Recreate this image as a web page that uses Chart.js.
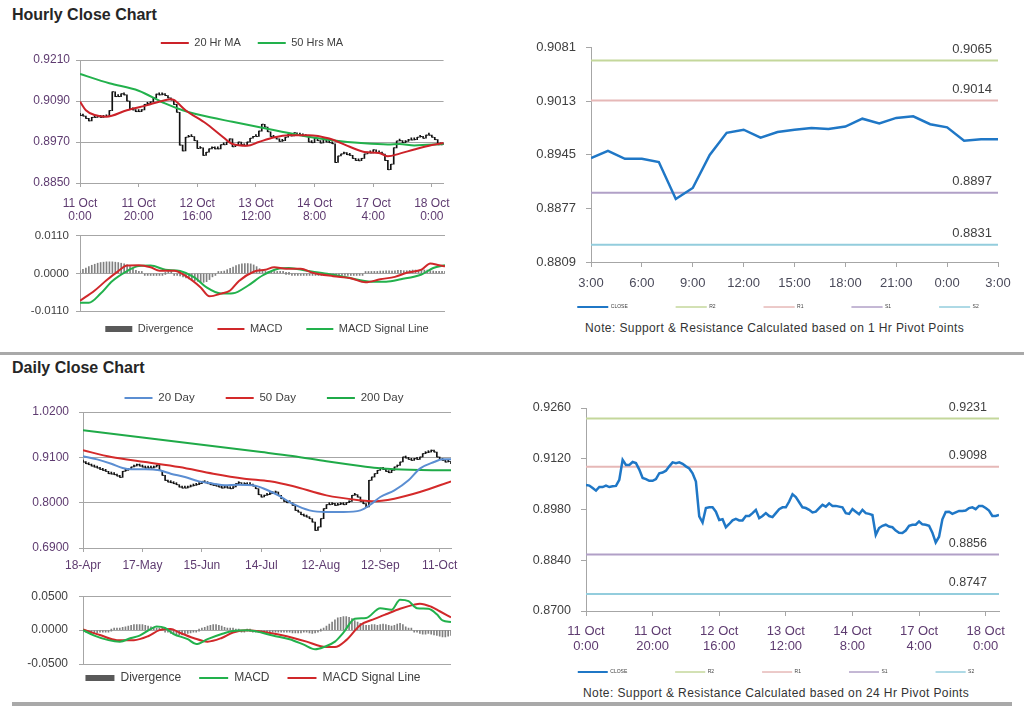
<!DOCTYPE html>
<html>
<head>
<meta charset="utf-8">
<title>Hourly and Daily Close Charts</title>
<script src="https://cdn.jsdelivr.net/npm/chart.js@4.4.1/dist/chart.umd.min.js"></script>
<style>
  html, body { margin:0; padding:0; background:#ffffff; }
  body { position:relative; width:1024px; height:706px; overflow:hidden; font-family:"Liberation Sans", Arial, Helvetica, sans-serif; }
  canvas { position:absolute; }
  .title { position:absolute; left:12px; font-weight:bold; font-size:16px; line-height:16px; color:#262626; white-space:nowrap; }
  .note { position:absolute; font-size:12px; line-height:14px; letter-spacing:0.4px; color:#333333; white-space:nowrap; }
  .rule { position:absolute; background:#a9a9a9; }
</style>
</head>
<body>
<div class="title" style="top:7px">Hourly Close Chart</div>
<div class="title" style="top:360px">Daily Close Chart</div>
<div class="rule" style="left:0;top:352px;width:1024px;height:3px"></div>
<div class="rule" style="left:12px;top:702px;width:1000px;height:4px"></div>
<div class="note" style="left:585px;top:321px">Note: Support &amp; Resistance Calculated based on 1 Hr Pivot Points</div>
<div class="note" style="left:583px;top:686px">Note: Support &amp; Resistance Calculated based on 24 Hr Pivot Points</div>
<canvas id="c1" width="460" height="200" style="left:0;top:26px"></canvas>
<canvas id="c2" width="460" height="125" style="left:0;top:222px"></canvas>
<canvas id="c3" width="524" height="320" style="left:500px;top:30px"></canvas>
<canvas id="c4" width="470" height="200" style="left:0;top:380px"></canvas>
<canvas id="c5" width="470" height="120" style="left:0;top:578px"></canvas>
<canvas id="c6" width="524" height="316" style="left:500px;top:390px"></canvas>
<script>
// ---------------- DATA ----------------
// Hourly closes, 11 Oct 0:00 .. 18 Oct ~4:00 (one value per hour bar)
const hourlyClose = [
  0.9048,0.9046,0.9039,0.9032,0.9042,0.9042,0.9046,0.9042,0.9044,0.9045,
  0.9062,0.9117,0.9103,0.9103,0.9111,0.9108,0.9090,0.9067,0.9064,0.9059,
  0.9059,0.9064,0.9080,0.9082,0.9087,0.9099,0.9110,0.9108,0.9110,0.9106,
  0.9099,0.9093,0.9080,0.9057,0.8961,0.8944,0.8984,0.8986,0.8986,0.8974,
  0.8951,0.8953,0.8931,0.8940,0.8950,0.8954,0.8950,0.8950,0.8962,0.8962,
  0.8970,0.8979,0.8956,0.8962,0.8970,0.8962,0.8959,0.8970,0.8981,0.8986,
  0.8986,0.9002,0.9022,0.9014,0.9000,0.8986,0.8984,0.8979,0.8972,0.8974,
  0.8984,0.8993,0.8988,0.8997,0.8990,0.8990,0.8988,0.8986,0.8970,0.8968,
  0.8981,0.8974,0.8967,0.8979,0.8970,0.8968,0.8965,0.8910,0.8929,0.8935,
  0.8938,0.8933,0.8931,0.8922,0.8916,0.8915,0.8922,0.8935,0.8938,0.8938,
  0.8947,0.8939,0.8938,0.8935,0.8916,0.8889,0.8905,0.8953,0.8973,0.8974,
  0.8968,0.8972,0.8976,0.8976,0.8977,0.8984,0.8986,0.8981,0.8990,0.8990,
  0.8984,0.8977,0.8962,0.8962,0.8965
];
const hourTickStep = 20;
const hourTickLabels = [['11 Oct','0:00'],['11 Oct','20:00'],['12 Oct','16:00'],['13 Oct','12:00'],['14 Oct','8:00'],['17 Oct','4:00'],['18 Oct','0:00']];

const hourMA20X = [0,2,5,9,16,23,27,31,32,36,43,48,52,57,61,66,71,78,85,92,97,102,105,109,114,120,124];
const hourMA20  = [0.9088,0.9063,0.9049,0.9044,0.9063,0.9078,0.9088,0.9095,0.9093,0.9063,0.9024,0.8990,0.8964,0.8959,0.8970,0.8983,0.8990,0.8990,0.8980,0.8956,0.8941,0.8938,0.8928,0.8936,0.8948,0.8961,0.8967];
const hourMA50X = [0,10,20,29,35,41,52,63,75,86,97,105,109,114,124];
const hourMA50  = [0.9169,0.9142,0.9120,0.9083,0.9063,0.9049,0.9029,0.9010,0.8990,0.8975,0.8966,0.8963,0.8964,0.8960,0.8964];

const hourMacdX = [0,5,9,13,16,20,24,27,32,36,41,44,48,51,54,59,63,66,70,75,79,86,92,97,102,107,111,116,119,122,124];
const hourMacd  = [-0.0080,-0.0050,-0.0020,0.0007,0.0023,0.0024,0.0018,0.0008,0.0008,-0.0008,-0.0041,-0.0067,-0.0059,-0.0050,-0.0022,0.0005,0.0011,0.0018,0.0014,0.0014,0.0002,-0.0008,-0.0014,-0.0026,-0.0017,-0.0010,0.0002,0.0011,0.0029,0.0024,0.0021];
const hourSigX  = [0,3,7,11,16,20,24,29,34,39,43,48,52,57,62,67,71,77,84,91,99,104,109,116,120,124];
const hourSig   = [-0.0086,-0.0086,-0.0059,-0.0022,0.0007,0.0022,0.0023,0.0011,0.0007,-0.0012,-0.0041,-0.0059,-0.0058,-0.0036,-0.0006,0.0013,0.0016,0.0008,-0.0001,-0.0012,-0.0024,-0.0024,-0.0017,-0.0003,0.0016,0.0024];
const hourDiv = [
  0.0008,0.0012,0.0016,0.0020,0.0024,0.0027,0.0030,0.0032,0.0033,0.0034,0.0034,0.0034,0.0033,0.0032,0.0030,0.0028,0.0025,0.0020,0.0014,0.0009,0.0005,0.0002,
  -0.0002,-0.0004,-0.0006,-0.0006,-0.0006,-0.0005,-0.0003,0.0000,0.0001,0.0001,-0.0002,-0.0004,-0.0007,-0.0010,-0.0013,-0.0016,-0.0019,-0.0021,-0.0023,-0.0025,-0.0026,-0.0024,-0.0018,-0.0010,-0.0003,
  0.0001,0.0004,0.0007,0.0011,0.0015,0.0019,0.0023,0.0026,0.0028,0.0029,0.0029,0.0028,0.0025,0.0020,0.0014,0.0009,0.0006,0.0005,0.0004,0.0004,0.0003,0.0002,0.0001,0.0000,0.0000,-0.0001,-0.0001,
  -0.0002,-0.0002,-0.0003,-0.0003,-0.0003,-0.0004,-0.0004,-0.0004,-0.0005,-0.0005,-0.0005,-0.0005,-0.0004,-0.0005,-0.0006,-0.0006,-0.0005,-0.0004,-0.0004,-0.0003,-0.0003,-0.0002,-0.0001,
  0.0002,0.0004,0.0005,0.0006,0.0006,0.0007,0.0007,0.0008,0.0008,0.0007,0.0008,0.0009,0.0009,0.0008,0.0008,0.0009,0.0010,0.0010,0.0009,0.0009,0.0010,0.0010,0.0008,0.0007,0.0006,0.0005,0.0005,0.0004
];

// 1 Hr pivot chart (last 24 hours)
const pivotHourClose = [0.8941,0.8950,0.8940,0.8940,0.8936,0.8889,0.8903,0.8945,0.8973,0.8977,0.8967,0.8974,0.8977,0.8979,0.8978,0.8981,0.8991,0.8985,0.8992,0.8994,0.8984,0.8980,0.8963,0.8965,0.8965];
const pivotHourTickStep = 3;
const pivotHourTicks = ['3:00','6:00','9:00','12:00','15:00','18:00','21:00','0:00','3:00'];
const pivot1Levels = [0.9065, 0.9014, 0.8897, 0.8831];
const pivot1LevelText = ['0.9065','0.9014','0.8897','0.8831'];
const pivot24Levels = [0.9231, 0.9098, 0.8856, 0.8747];
const pivot24LevelText = ['0.9231','0.9098','0.8856','0.8747'];
const pivotNames = ['R2','R1','S1','S2'];

// Daily closes, 18-Apr .. mid Oct
const dailyClose = [
  0.8986,0.8946,0.8922,0.8889,0.8865,0.8841,0.8809,0.8784,0.8760,0.8703,
  0.8695,0.8679,0.8647,0.8614,0.8760,0.8784,0.8809,0.8865,0.8889,0.8922,
  0.8889,0.8865,0.8841,0.8841,0.8841,0.8865,0.8906,0.8784,0.8663,0.8542,
  0.8501,0.8485,0.8461,0.8436,0.8380,0.8355,0.8355,0.8380,0.8404,0.8420,
  0.8436,0.8461,0.8517,0.8485,0.8461,0.8436,0.8420,0.8404,0.8380,0.8355,
  0.8380,0.8355,0.8339,0.8380,0.8461,0.8485,0.8436,0.8461,0.8436,0.8436,
  0.8404,0.8339,0.8194,0.8137,0.8178,0.8194,0.8218,0.8234,0.8258,0.8178,
  0.8097,0.8032,0.7999,0.7999,0.7935,0.7813,0.7773,0.7708,0.7676,0.7652,
  0.7611,0.7530,0.7328,0.7409,0.7611,0.7854,0.7951,0.7951,0.7975,0.7935,
  0.7951,0.7975,0.7951,0.7999,0.8032,0.8178,0.8194,0.8137,0.8032,0.7975,
  0.7894,0.8542,0.8622,0.8703,0.8784,0.8841,0.8809,0.8760,0.8728,0.8784,
  0.8865,0.8906,0.8986,0.9108,0.9084,0.9051,0.9027,0.9067,0.9051,0.9108,
  0.9189,0.9213,0.9229,0.9270,0.9229,0.9108,0.9051,0.9027,0.8986,0.9003,
  0.8946
];
const dayTickStep = 21;
const dayTickLabels = ['18-Apr','17-May','15-Jun','14-Jul','12-Aug','12-Sep','11-Oct'];

const dayMA20X  = [0,5,10,14,17,22,27,31,36,41,46,50,55,60,64,69,74,80,86,92,98,102,105,110,115,119,124,127,130];
const dayMA20   = [0.9124,0.9051,0.8946,0.8841,0.8809,0.8809,0.8784,0.8703,0.8622,0.8517,0.8461,0.8420,0.8436,0.8420,0.8339,0.8177,0.7975,0.7813,0.7773,0.7773,0.7813,0.7975,0.8137,0.8299,0.8542,0.8825,0.8986,0.9051,0.9051];
const dayMA50X  = [0,10,22,34,46,57,66,74,86,98,102,110,119,130];
const dayMA50   = [0.9270,0.9108,0.8986,0.8865,0.8703,0.8582,0.8517,0.8404,0.8177,0.8056,0.8032,0.8097,0.8258,0.8517];
const dayMA200X = [0,63,74,86,98,104,110,130];
const dayMA200  = [0.9755,0.9229,0.9132,0.9003,0.8889,0.8841,0.8809,0.8784];

const dayMacdX = [0,4,9,13,17,20,24,26,29,32,37,40,44,49,53,58,63,67,73,78,82,85,89,92,96,100,105,109,112,115,118,122,125,127,130];
const dayMacd  = [0,-0.0081,-0.0148,-0.0170,-0.0116,-0.0081,0.0018,0.0054,0.0031,-0.0058,-0.0134,-0.0206,-0.0134,-0.0058,-0.0013,-0.0004,-0.0036,-0.0081,-0.0134,-0.0215,-0.0282,-0.0251,-0.0170,-0.0036,0.0166,0.0179,0.0323,0.0300,0.0448,0.0426,0.0323,0.0314,0.0233,0.0143,0.0121];
const daySigX  = [0,6,12,18,23,27,31,34,39,44,49,53,58,65,72,79,84,89,93,98,103,107,112,117,119,123,126,130];
const daySig   = [0.0009,-0.0072,-0.0148,-0.0148,-0.0090,0,0.0018,-0.0036,-0.0116,-0.0170,-0.0116,-0.0036,-0.0004,-0.0036,-0.0090,-0.0170,-0.0237,-0.0251,-0.0148,0.0076,0.0166,0.0233,0.0314,0.0376,0.0390,0.0345,0.0278,0.0188];
const dayDiv = [
  -0.001,-0.002,-0.003,-0.004,-0.004,-0.004,-0.003,-0.003,-0.002,-0.001,
  0.000,0.001,0.002,0.003,0.004,0.005,0.006,0.007,0.008,0.008,0.008,0.008,0.007,0.006,0.005,
  0.004,0.003,0.002,0.001,-0.001,
  -0.003,-0.005,-0.006,-0.007,-0.007,-0.007,-0.006,-0.005,-0.004,-0.003,-0.002,0.000,
  0.002,0.004,0.006,0.007,0.008,0.008,0.007,0.006,0.004,0.003,0.002,
  0.001,0.000,0.000,-0.001,-0.001,0.000,0.000,-0.001,-0.001,-0.002,-0.002,-0.002,-0.001,-0.001,-0.002,-0.002,-0.002,
  -0.002,-0.003,-0.003,-0.003,-0.004,-0.004,-0.004,-0.004,-0.003,-0.003,-0.004,-0.005,-0.004,-0.002,0.000,0.003,0.006,0.009,
  0.012,0.015,0.018,0.019,0.020,0.020,0.019,0.017,0.014,0.012,0.010,0.008,0.007,
  0.007,0.008,0.008,0.007,0.008,0.009,0.008,0.007,0.006,0.007,0.009,0.010,0.008,0.005,0.003,0.001,-0.001,
  -0.003,-0.005,-0.006,-0.006,-0.005,-0.006,-0.007,-0.008,-0.009,-0.010,-0.010,-0.009,-0.008
];

// ---------------- STYLE ----------------
const FONT = '"Liberation Sans", Arial, Helvetica, sans-serif';
const GRID = '#a6a6a6';
const C = {
  bars:'#111111', ma20h:'#cc2229', ma50h:'#22b14c', div:'#808080', divKey:'#595959',
  macdRed:'#d0282a', macdGreen:'#22b14c', close:'#1f77c6',
  r2:'#c4d79b', r1:'#e6b8b7', s1:'#b1a0c7', s2:'#93cddd',
  d20:'#5b8ed2', d50:'#d42a2a', d200:'#1faa48',
  purple:'#5e3b70', dark:'#404040'
};

Chart.defaults.font.family = FONT;
Chart.defaults.animation = false;
Chart.defaults.responsive = false;
Chart.defaults.maintainAspectRatio = false;
Chart.defaults.devicePixelRatio = 1;
Chart.defaults.events = [];
Chart.defaults.plugins.tooltip.enabled = false;
Chart.defaults.elements.point.radius = 0;
Chart.defaults.elements.line.tension = 0;

// place legend at a given centre (legend box keeps 1px in layout, then is moved and given room to draw)
const legendPlace = {
  id: 'legendPlace',
  afterLayout(chart, args, opts) {
    const L = chart.legend;
    if (!L || opts.cy == null) return;
    const top = opts.cy - opts.pad - opts.fs / 2;
    L.top = top;
    L.bottom = top + opts.pad * 2 + opts.fs + 4;
    L.height = L.bottom - L.top;
    const s = opts.cx - (L.left + L.right) / 2;
    L.left += s; L.right += s;
  }
};
// value labels above the pivot level lines
const levelLabels = {
  id: 'levelLabels',
  afterDatasetsDraw(chart, args, opts) {
    if (!opts.values) return;
    const ctx = chart.ctx, ys = chart.scales.y;
    ctx.save();
    ctx.font = opts.font; ctx.fillStyle = opts.color;
    ctx.textAlign = 'right'; ctx.textBaseline = 'middle';
    opts.values.forEach((v, i) => ctx.fillText(opts.texts[i], opts.x, ys.getPixelForValue(v) + opts.dy));
    ctx.restore();
  }
};
Chart.register(legendPlace, levelLabels);

// ---------------- HELPERS ----------------
const pts = (xs, ys) => xs.map((x, i) => ({x, y: ys[i]}));
const idxPts = ys => ys.map((y, i) => ({x: i, y}));
const spanBars = ys => ys.map((y, i) => ({x: i, y: [Math.min(i ? ys[i-1] : y, y), Math.max(i ? ys[i-1] : y, y)]}));
const fmt4 = v => (Math.abs(v) < 1e-9 ? 0 : v).toFixed(4);

function legendCfg(position, fs, pad, boxW, cx, cy) {
  return {
    legend: {
      display: true, position, maxHeight: 1,
      labels: {
        font: {size: fs}, color: C.dark, padding: pad, boxWidth: boxW, boxHeight: 0,
        generateLabels: ch => ch.data.datasets
          .map((d, i) => d.legendText ? {text: d.legendText, fillStyle: d.legendColor, strokeStyle: d.legendColor,
             lineWidth: d.legendWidth, hidden: false, datasetIndex: i, fontColor: C.dark} : null)
          .filter(Boolean)
      }
    },
    legendPlace: {cx, cy, pad, fs}
  };
}
function yAxis(o) {
  return {
    type: 'linear', position: 'left', min: o.min, max: o.max,
    ticks: {stepSize: o.step, font: {size: o.fs}, color: o.color, padding: o.pad, callback: fmt4},
    grid: {display: true, drawOnChartArea: o.grid, drawTicks: true, tickLength: o.tl, color: GRID, lineWidth: 1},
    border: {display: true, color: GRID},
    afterFit: s => { s.width = o.w; }
  };
}
function xAxis(o) {
  if (o.hidden) return {type: 'linear', min: 0, max: o.max, offset: false, display: false};
  return {
    type: 'linear', position: 'bottom', min: 0, max: o.max, offset: false,
    ticks: {stepSize: o.step, includeBounds: false, autoSkip: false, maxRotation: 0, minRotation: 0,
      font: {size: o.fs, lineHeight: o.lh}, color: o.color, padding: o.pad,
      callback: v => o.labels[Math.round(v / o.step)]},
    grid: {display: true, drawOnChartArea: false, drawTicks: true, tickLength: o.tl, color: GRID, offset: false},
    border: {display: true, color: GRID},
    afterFit: s => { s.height = o.h; }
  };
}
const lineDS = (label, data, color, width, key) => ({
  type: 'line', label, data, borderColor: color, backgroundColor: color, borderWidth: width,
  pointRadius: 0, fill: false, cubicInterpolationMode: 'monotone', order: 1,
  legendText: key ? label : null, legendColor: color, legendWidth: 2
});
const barDS = (label, data, color, key, keyColor) => ({
  type: 'bar', label, data, backgroundColor: color, borderWidth: 0, barThickness: 1, minBarLength: 2,
  grouped: false, order: 5, legendText: key ? label : null, legendColor: keyColor || color, legendWidth: 6
});
const tickDS = (label, data) => ({
  type: 'line', label, data, showLine: false, pointStyle: 'dash', pointRadius: 2,
  pointBorderColor: C.bars, pointBorderWidth: 1, pointBackgroundColor: C.bars, order: 4, legendText: null
});
const flatDS = (label, level, xmax, color) => ({
  type: 'line', label, data: [{x: 0, y: level}, {x: xmax, y: level}], borderColor: color, backgroundColor: color,
  borderWidth: 2, pointRadius: 0, order: 2, legendText: label, legendColor: color, legendWidth: 1
});

const hourMax = hourlyClose.length - 1;
const dayMax = dailyClose.length - 1;
const pivMax = pivotHourClose.length - 1;

// ---------------- 1: Hourly close ----------------
new Chart(document.getElementById('c1'), {
  type: 'line',
  data: { datasets: [
    lineDS('20 Hr MA', pts(hourMA20X, hourMA20), C.ma20h, 2, true),
    lineDS('50 Hrs MA', pts(hourMA50X, hourMA50), C.ma50h, 2, true),
    barDS('Hourly range', spanBars(hourlyClose), C.bars, false),
    tickDS('Hourly close', idxPts(hourlyClose))
  ]},
  options: {
    layout: {padding: {top: 33, right: 15, bottom: 0, left: 0}},
    plugins: legendCfg('top', 11, 17, 28, 252, 17),
    scales: {
      x: xAxis({max: hourMax, step: hourTickStep, labels: hourTickLabels, fs: 12, lh: 1.1, color: C.purple, pad: 10, tl: 4, h: 43}),
      y: yAxis({min: 0.885, max: 0.921, step: 0.012, fs: 12, color: C.purple, pad: 6, tl: 4, w: 80, grid: true})
    }
  }
});

// ---------------- 2: Hourly MACD ----------------
new Chart(document.getElementById('c2'), {
  type: 'line',
  data: { datasets: [
    barDS('Divergence', idxPts(hourDiv), C.div, true, C.divKey),
    lineDS('MACD', pts(hourMacdX, hourMacd), C.macdRed, 2, true),
    lineDS('MACD Signal Line', pts(hourSigX, hourSig), C.macdGreen, 2, true)
  ]},
  options: {
    layout: {padding: {top: 11, right: 15, bottom: 35, left: 0}},
    plugins: legendCfg('bottom', 11, 24, 27, 267, 107),
    scales: {
      x: xAxis({hidden: true, max: hourMax}),
      y: yAxis({min: -0.011, max: 0.011, step: 0.011, fs: 11.5, color: C.dark, pad: 7, tl: 4, w: 80, grid: true})
    }
  }
});

// ---------------- 3: 1 Hr pivot chart ----------------
new Chart(document.getElementById('c3'), {
  type: 'line',
  data: { datasets: [
    {type: 'line', label: 'CLOSE', data: idxPts(pivotHourClose), borderColor: C.close, backgroundColor: C.close,
     borderWidth: 2.5, pointRadius: 0, order: 1, legendText: 'CLOSE', legendColor: C.close, legendWidth: 2},
    flatDS(pivotNames[0], pivot1Levels[0], pivMax, C.r2),
    flatDS(pivotNames[1], pivot1Levels[1], pivMax, C.r1),
    flatDS(pivotNames[2], pivot1Levels[2], pivMax, C.s1),
    flatDS(pivotNames[3], pivot1Levels[3], pivMax, C.s2)
  ]},
  options: {
    layout: {padding: {top: 17, right: 26, bottom: 47, left: 0}},
    plugins: Object.assign(legendCfg('bottom', 5, 48, 31, 278, 277),
      {levelLabels: {values: pivot1Levels, texts: pivot1LevelText, x: 492, dy: -11, font: '13px ' + FONT, color: C.dark}}),
    scales: {
      x: xAxis({max: pivMax, step: pivotHourTickStep, labels: pivotHourTicks, fs: 13, lh: 1.2, color: '#4a4a5a', pad: 9, tl: 5, h: 40}),
      y: yAxis({min: 0.8809, max: 0.9081, step: 0.0068, fs: 13, color: C.dark, pad: 10, tl: 5, w: 91, grid: false})
    }
  }
});

// ---------------- 4: Daily close ----------------
new Chart(document.getElementById('c4'), {
  type: 'line',
  data: { datasets: [
    lineDS('20 Day', pts(dayMA20X, dayMA20), C.d20, 2, true),
    lineDS('50 Day', pts(dayMA50X, dayMA50), C.d50, 2, true),
    lineDS('200 Day', pts(dayMA200X, dayMA200), C.d200, 2, true),
    barDS('Daily range', spanBars(dailyClose), C.bars, false),
    tickDS('Daily close', idxPts(dailyClose))
  ]},
  options: {
    layout: {padding: {top: 31, right: 19, bottom: 0, left: 0}},
    plugins: legendCfg('top', 11.5, 31, 28, 264, 18),
    scales: {
      x: xAxis({max: dayMax, step: dayTickStep, labels: dayTickLabels, fs: 12, lh: 1.2, color: C.purple, pad: 6, tl: 4, h: 32}),
      y: yAxis({min: 0.69, max: 1.02, step: 0.11, fs: 12, color: C.purple, pad: 10, tl: 4, w: 83, grid: true})
    }
  }
});

// ---------------- 5: Daily MACD ----------------
new Chart(document.getElementById('c5'), {
  type: 'line',
  data: { datasets: [
    barDS('Divergence', idxPts(dayDiv), C.div, true, C.divKey),
    lineDS('MACD', pts(dayMacdX, dayMacd), C.macdGreen, 2, true),
    lineDS('MACD Signal Line', pts(daySigX, daySig), C.macdRed, 2, true)
  ]},
  options: {
    layout: {padding: {top: 12, right: 19, bottom: 33, left: 0}},
    plugins: legendCfg('bottom', 12, 18, 29, 253, 100),
    scales: {
      x: xAxis({hidden: true, max: dayMax}),
      y: yAxis({min: -0.05, max: 0.05, step: 0.05, fs: 12, color: C.dark, pad: 11, tl: 4, w: 83, grid: true})
    }
  }
});

// ---------------- 6: 24 Hr pivot chart ----------------
new Chart(document.getElementById('c6'), {
  type: 'line',
  data: { datasets: [
    {type: 'line', label: 'CLOSE', data: idxPts(hourlyClose), borderColor: C.close, backgroundColor: C.close,
     borderWidth: 2.5, pointRadius: 0, order: 1, legendText: 'CLOSE', legendColor: C.close, legendWidth: 2},
    flatDS(pivotNames[0], pivot24Levels[0], hourMax, C.r2),
    flatDS(pivotNames[1], pivot24Levels[1], hourMax, C.r1),
    flatDS(pivotNames[2], pivot24Levels[2], hourMax, C.s1),
    flatDS(pivotNames[3], pivot24Levels[3], hourMax, C.s2)
  ]},
  options: {
    layout: {padding: {top: 18, right: 25, bottom: 49, left: 0}},
    plugins: Object.assign(legendCfg('bottom', 5, 48, 30, 276, 282),
      {levelLabels: {values: pivot24Levels, texts: pivot24LevelText, x: 487, dy: -11, font: '12.5px ' + FONT, color: C.dark}}),
    scales: {
      x: xAxis({max: hourMax, step: hourTickStep, labels: hourTickLabels, fs: 13, lh: 1.15, color: C.purple, pad: 8, tl: 5, h: 45}),
      y: yAxis({min: 0.87, max: 0.926, step: 0.014, fs: 12.5, color: C.dark, pad: 10, tl: 5, w: 86, grid: false})
    }
  }
});
</script>
</body>
</html>
